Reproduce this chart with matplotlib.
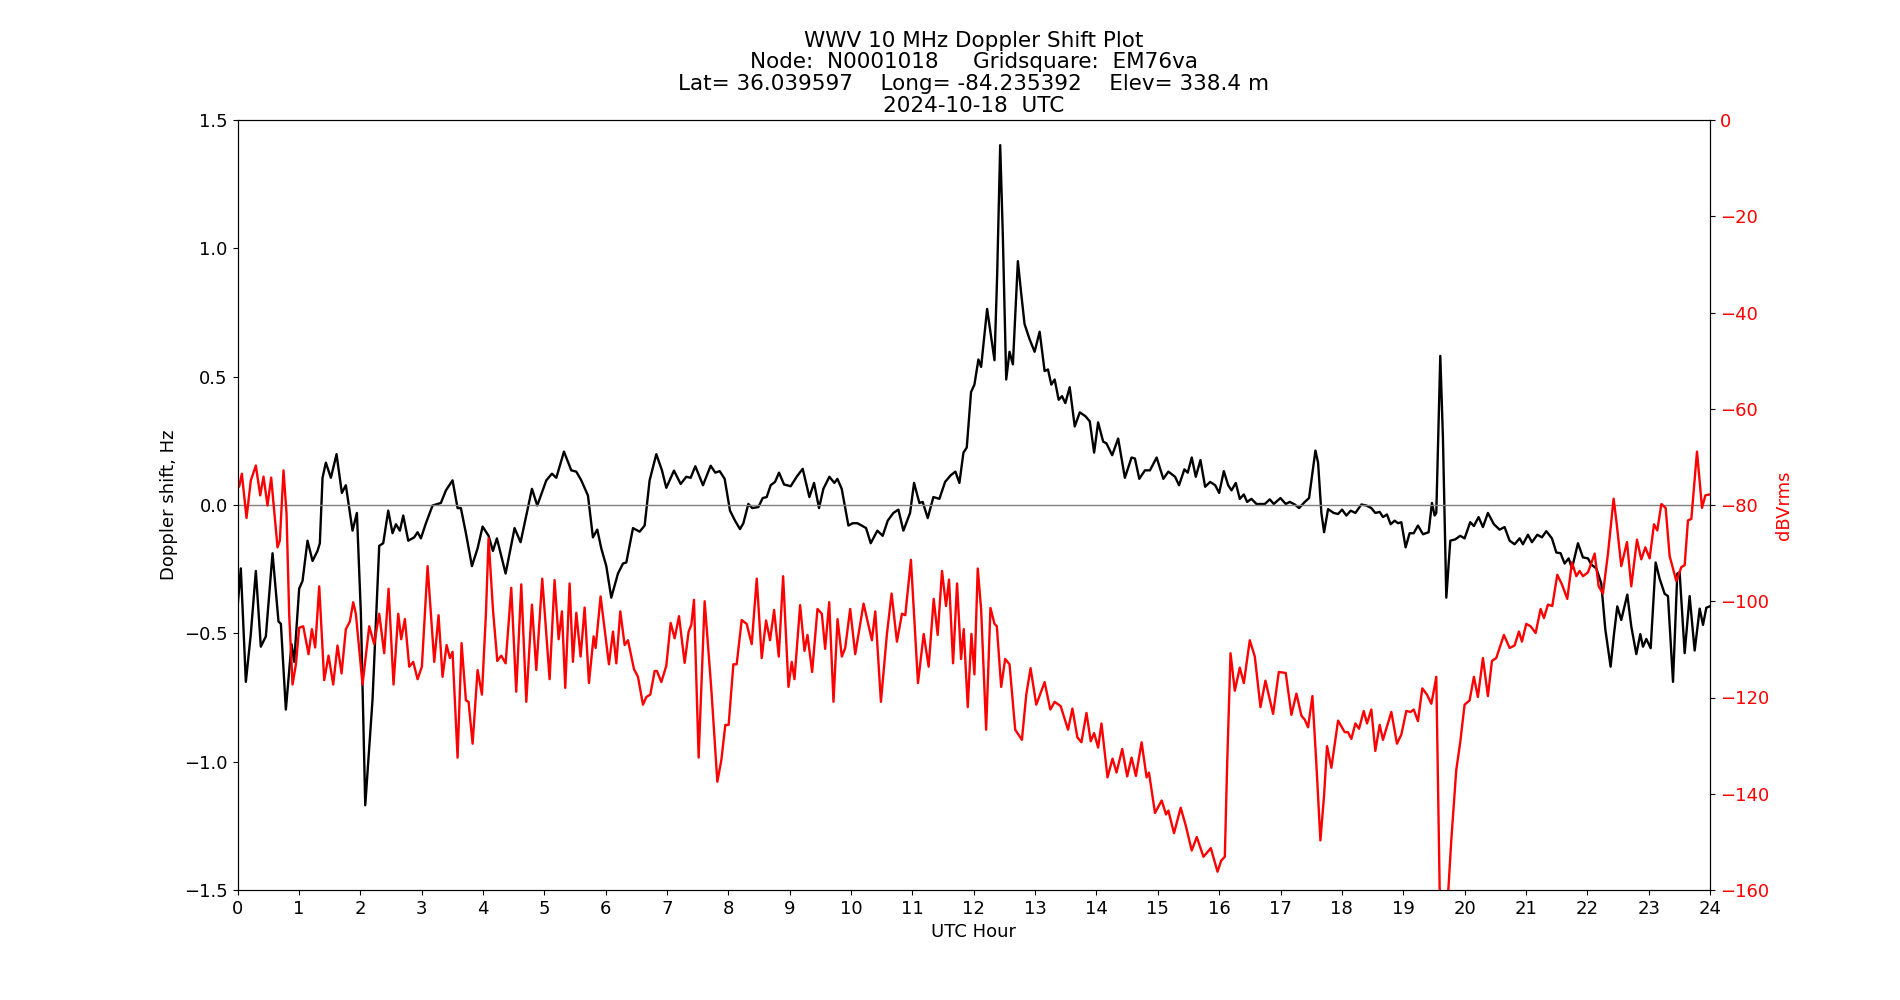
import matplotlib
matplotlib.use("Agg")
import matplotlib.pyplot as plt

# ---- Doppler shift (Hz) vs UTC hour ----
dop_hours = [
    0.000, 0.054, 0.136, 0.217, 0.299, 0.380, 0.462, 0.571, 0.668, 0.707, 0.788, 0.880, 0.924,
    1.005, 1.060, 1.141, 1.223, 1.304, 1.342, 1.386, 1.440, 1.522, 1.614, 1.701, 1.766, 1.875,
    1.946, 2.011, 2.082, 2.201, 2.310, 2.375, 2.457, 2.527, 2.582, 2.647, 2.701, 2.783, 2.880,
    2.935, 2.989, 3.071, 3.179, 3.315, 3.397, 3.505, 3.587, 3.641, 3.723, 3.821, 3.913, 3.995,
    4.092, 4.163, 4.228, 4.370, 4.516, 4.614, 4.799, 4.886, 5.033, 5.125, 5.196, 5.321, 5.440,
    5.522, 5.603, 5.712, 5.793, 5.864, 5.929, 6.011, 6.092, 6.201, 6.283, 6.337, 6.446, 6.554,
    6.636, 6.717, 6.826, 6.918, 6.989, 7.114, 7.223, 7.315, 7.386, 7.462, 7.587, 7.712, 7.788,
    7.859, 7.940, 8.027, 8.109, 8.190, 8.245, 8.326, 8.391, 8.489, 8.560, 8.625, 8.690, 8.761,
    8.826, 8.908, 9.016, 9.114, 9.212, 9.321, 9.397, 9.478, 9.549, 9.647, 9.728, 9.777, 9.848,
    9.957, 10.027, 10.103, 10.174, 10.245, 10.321, 10.429, 10.516, 10.598, 10.690, 10.772,
    10.853, 10.962, 11.027, 11.114, 11.168, 11.250, 11.342, 11.440, 11.533, 11.625, 11.701,
    11.766, 11.832, 11.886, 11.956, 12.011, 12.076, 12.120, 12.218, 12.283, 12.338, 12.381,
    12.431, 12.474, 12.529, 12.583, 12.638, 12.719, 12.774, 12.828, 12.910, 12.992, 13.074,
    13.155, 13.210, 13.264, 13.319, 13.384, 13.439, 13.493, 13.564, 13.646, 13.728, 13.820,
    13.891, 13.962, 14.027, 14.109, 14.163, 14.256, 14.354, 14.463, 14.572, 14.627, 14.698,
    14.790, 14.872, 14.981, 15.090, 15.172, 15.281, 15.346, 15.433, 15.488, 15.553, 15.619,
    15.695, 15.771, 15.853, 15.935, 16.000, 16.076, 16.147, 16.201, 16.271, 16.336, 16.402,
    16.456, 16.526, 16.608, 16.744, 16.825, 16.890, 16.999, 17.085, 17.151, 17.232, 17.303,
    17.395, 17.465, 17.520, 17.569, 17.612, 17.666, 17.710, 17.775, 17.867, 17.938, 18.003,
    18.073, 18.144, 18.220, 18.318, 18.399, 18.480, 18.545, 18.616, 18.670, 18.735, 18.795,
    18.860, 18.915, 18.969, 19.039, 19.104, 19.170, 19.240, 19.322, 19.414, 19.468, 19.512,
    19.539, 19.604, 19.647, 19.702, 19.767, 19.848, 19.929, 20.000, 20.092, 20.152, 20.228,
    20.299, 20.380, 20.478, 20.571, 20.652, 20.734, 20.815, 20.897, 20.951, 21.033, 21.098,
    21.185, 21.261, 21.332, 21.424, 21.495, 21.565, 21.630, 21.696, 21.750, 21.848, 21.929,
    22.011, 22.065, 22.147, 22.228, 22.293, 22.380, 22.435, 22.489, 22.554, 22.652, 22.717,
    22.799, 22.864, 22.908, 22.962, 23.033, 23.114, 23.179, 23.261, 23.315, 23.397, 23.467,
    23.505, 23.587, 23.668, 23.750, 23.832, 23.886, 23.940, 23.995,
]
dop_shift = [
    -0.400, -0.247, -0.689, -0.503, -0.257, -0.552, -0.512, -0.188, -0.454, -0.463, -0.797, -0.542, -0.611,
    -0.326, -0.296, -0.139, -0.218, -0.179, -0.149, 0.106, 0.165, 0.106, 0.198, 0.047, 0.077, -0.100,
    -0.031, -0.424, -1.170, -0.758, -0.159, -0.149, -0.022, -0.110, -0.075, -0.100, -0.041, -0.139, -0.126,
    -0.106, -0.130, -0.071, -0.002, 0.008, 0.057, 0.096, -0.012, -0.012, -0.110, -0.238, -0.169, -0.084,
    -0.120, -0.179, -0.130, -0.267, -0.090, -0.145, 0.063, -0.002, 0.096, 0.122, 0.106, 0.208, 0.135,
    0.130, 0.096, 0.037, -0.126, -0.096, -0.169, -0.238, -0.361, -0.267, -0.228, -0.224, -0.090, -0.104,
    -0.080, 0.096, 0.198, 0.135, 0.067, 0.134, 0.082, 0.110, 0.106, 0.151, 0.077, 0.153, 0.126,
    0.132, 0.102, -0.022, -0.061, -0.094, -0.071, 0.004, -0.012, -0.008, 0.027, 0.031, 0.077, 0.090,
    0.126, 0.080, 0.073, 0.110, 0.141, 0.031, 0.086, -0.012, 0.063, 0.110, 0.086, 0.102, 0.063,
    -0.080, -0.071, -0.071, -0.080, -0.090, -0.149, -0.100, -0.120, -0.061, -0.031, -0.018,
    -0.100, -0.031, 0.086, 0.008, 0.012, -0.051, 0.031, 0.024, 0.090, 0.116, 0.130,
    0.086, 0.204, 0.224, 0.440, 0.469, 0.567, 0.538, 0.764, 0.656, 0.564, 0.891,
    1.402, 1.049, 0.489, 0.597, 0.548, 0.950, 0.823, 0.705, 0.646, 0.597, 0.675,
    0.522, 0.528, 0.469, 0.489, 0.410, 0.424, 0.397, 0.459, 0.306, 0.361, 0.346,
    0.326, 0.204, 0.322, 0.247, 0.240, 0.194, 0.259, 0.106, 0.185, 0.181, 0.102,
    0.135, 0.135, 0.185, 0.102, 0.130, 0.110, 0.077, 0.139, 0.126, 0.185, 0.110,
    0.175, 0.071, 0.090, 0.077, 0.047, 0.132, 0.077, 0.057, 0.086, 0.024, 0.041,
    0.012, 0.024, 0.004, 0.004, 0.022, 0.004, 0.027, 0.004, 0.012, 0.002, -0.012,
    0.012, 0.027, 0.126, 0.212, 0.165, -0.031, -0.106, -0.016, -0.031, -0.035, -0.018,
    -0.041, -0.022, -0.031, 0.002, -0.002, -0.012, -0.031, -0.027, -0.047, -0.037, -0.075,
    -0.061, -0.071, -0.067, -0.165, -0.110, -0.110, -0.080, -0.114, -0.106, 0.008, -0.041,
    -0.031, 0.581, 0.263, -0.361, -0.139, -0.134, -0.120, -0.130, -0.067, -0.082, -0.047,
    -0.086, -0.031, -0.075, -0.096, -0.086, -0.139, -0.153, -0.130, -0.153, -0.116, -0.145,
    -0.116, -0.126, -0.102, -0.130, -0.185, -0.188, -0.228, -0.208, -0.247, -0.149, -0.204,
    -0.208, -0.232, -0.247, -0.306, -0.483, -0.630, -0.503, -0.395, -0.448, -0.349, -0.473,
    -0.581, -0.503, -0.552, -0.522, -0.558, -0.224, -0.287, -0.346, -0.355, -0.689, -0.267,
    -0.263, -0.577, -0.355, -0.567, -0.404, -0.467, -0.400, -0.395,
]

# ---- Signal level (dBVrms) vs UTC hour ----
amp_hours = [
    0.000, 0.027, 0.071, 0.147, 0.217, 0.299, 0.370, 0.424, 0.489, 0.549, 0.652, 0.690, 0.750,
    0.799, 0.842, 0.897, 0.951, 1.005, 1.071, 1.158, 1.212, 1.266, 1.332, 1.413, 1.484, 1.560,
    1.630, 1.696, 1.766, 1.832, 1.886, 1.929, 2.038, 2.147, 2.228, 2.310, 2.391, 2.462, 2.543,
    2.620, 2.668, 2.728, 2.799, 2.864, 2.935, 3.005, 3.098, 3.207, 3.277, 3.342, 3.408, 3.462,
    3.505, 3.587, 3.652, 3.723, 3.766, 3.832, 3.913, 3.984, 4.049, 4.092, 4.163, 4.234, 4.299,
    4.370, 4.462, 4.543, 4.625, 4.707, 4.799, 4.870, 4.967, 5.087, 5.168, 5.234, 5.288, 5.342,
    5.413, 5.467, 5.522, 5.592, 5.658, 5.728, 5.804, 5.837, 5.918, 6.054, 6.120, 6.174, 6.239,
    6.310, 6.364, 6.462, 6.527, 6.609, 6.663, 6.728, 6.799, 6.837, 6.908, 6.989, 7.060, 7.125,
    7.196, 7.288, 7.353, 7.397, 7.440, 7.516, 7.614, 7.723, 7.821, 7.886, 7.951, 8.005, 8.082,
    8.136, 8.218, 8.299, 8.381, 8.463, 8.544, 8.615, 8.680, 8.746, 8.822, 8.893, 8.980, 9.034,
    9.078, 9.170, 9.241, 9.290, 9.366, 9.453, 9.524, 9.578, 9.644, 9.714, 9.780, 9.850, 9.905,
    9.986, 10.068, 10.204, 10.340, 10.395, 10.487, 10.585, 10.661, 10.748, 10.830, 10.884,
    10.976, 11.091, 11.184, 11.265, 11.347, 11.412, 11.483, 11.548, 11.597, 11.663, 11.728,
    11.793, 11.837, 11.902, 11.962, 12.011, 12.065, 12.120, 12.202, 12.272, 12.338, 12.376,
    12.447, 12.512, 12.583, 12.676, 12.785, 12.856, 12.926, 13.019, 13.155, 13.248, 13.319,
    13.417, 13.537, 13.608, 13.689, 13.755, 13.837, 13.907, 13.962, 14.027, 14.082, 14.180,
    14.262, 14.327, 14.420, 14.501, 14.572, 14.643, 14.736, 14.817, 14.856, 14.954, 15.063,
    15.134, 15.172, 15.264, 15.373, 15.455, 15.553, 15.635, 15.744, 15.864, 15.973, 16.033,
    16.092, 16.130, 16.185, 16.255, 16.336, 16.402, 16.499, 16.581, 16.673, 16.754, 16.879,
    16.972, 17.085, 17.178, 17.259, 17.341, 17.395, 17.449, 17.520, 17.585, 17.650, 17.710,
    17.758, 17.829, 17.938, 18.046, 18.100, 18.155, 18.220, 18.280, 18.356, 18.410, 18.480,
    18.545, 18.616, 18.670, 18.806, 18.898, 18.969, 19.050, 19.121, 19.170, 19.240, 19.311,
    19.387, 19.458, 19.495, 19.539, 19.593, 19.630, 19.700, 19.729, 19.783, 19.864, 19.929,
    20.000, 20.082, 20.152, 20.217, 20.299, 20.380, 20.446, 20.516, 20.641, 20.734, 20.815,
    20.886, 20.935, 21.005, 21.076, 21.158, 21.239, 21.293, 21.359, 21.429, 21.511, 21.587,
    21.674, 21.750, 21.821, 21.875, 21.929, 22.011, 22.120, 22.185, 22.255, 22.337, 22.429,
    22.473, 22.554, 22.647, 22.717, 22.810, 22.880, 22.946, 23.016, 23.087, 23.141, 23.207,
    23.277, 23.342, 23.451, 23.533, 23.587, 23.641, 23.696, 23.788, 23.870, 23.924, 23.995,
]
amp_db = [
    -75.9, -76.2, -73.5, -82.7, -74.9, -71.8, -78.0, -74.1, -80.1, -74.3, -88.8, -87.4, -72.8,
    -81.7, -102.6, -117.3, -113.2, -105.5, -105.2, -111.0, -105.8, -109.6, -96.9, -116.4, -111.3, -117.3,
    -109.2, -115.0, -105.8, -104.2, -100.2, -102.6, -117.3, -105.2, -108.9, -102.6, -110.8, -97.4, -117.3,
    -102.6, -107.9, -103.7, -113.6, -112.6, -116.2, -113.6, -92.7, -112.6, -102.9, -115.7, -109.1, -111.8,
    -110.5, -132.5, -108.7, -120.6, -120.9, -129.6, -114.3, -119.4, -102.6, -86.9, -101.6, -112.4, -111.3,
    -112.9, -97.2, -118.8, -96.5, -120.9, -100.7, -114.3, -95.3, -116.2, -95.6, -107.9, -102.1, -118.0,
    -96.3, -112.6, -102.4, -111.5, -101.3, -117.0, -107.3, -109.7, -99.0, -113.1, -106.3, -112.9, -102.1,
    -109.1, -108.1, -114.1, -115.7, -121.5, -119.9, -119.4, -114.5, -114.5, -116.8, -113.4, -104.5, -107.7,
    -103.1, -112.8, -106.3, -104.9, -99.7, -132.5, -100.0, -118.3, -137.5, -133.0, -125.7, -125.7, -113.1,
    -113.1, -103.9, -104.7, -108.9, -95.3, -111.8, -104.0, -108.1, -101.8, -111.5, -94.8, -117.8, -112.6,
    -116.2, -100.8, -110.3, -107.0, -114.7, -101.6, -102.6, -109.9, -100.2, -120.9, -103.7, -111.5, -109.7,
    -101.6, -111.0, -100.5, -108.1, -102.1, -120.9, -106.8, -98.4, -108.4, -102.6, -102.9,
    -91.4, -117.0, -106.8, -113.6, -99.5, -107.0, -93.7, -101.0, -95.5, -112.9, -96.3,
    -112.0, -105.8, -122.0, -106.8, -115.2, -93.2, -101.6, -126.7, -101.4, -104.7, -105.2,
    -117.8, -112.0, -113.1, -126.7, -128.8, -119.4, -113.9, -121.5, -116.8, -122.5, -120.9,
    -121.8, -126.7, -122.3, -128.3, -129.3, -123.2, -129.1, -127.4, -130.4, -125.4, -136.6,
    -132.7, -135.6, -130.7, -136.4, -132.5, -136.3, -129.3, -136.6, -135.6, -144.0, -141.4,
    -144.3, -143.5, -148.2, -142.9, -146.6, -151.8, -149.0, -153.1, -151.3, -156.2, -153.9,
    -153.1, -134.0, -110.8, -118.6, -113.8, -117.0, -108.1, -111.5, -122.0, -116.5, -123.4,
    -114.7, -114.9, -123.6, -119.2, -123.8, -124.6, -126.2, -119.7, -134.0, -149.7, -140.3,
    -130.1, -134.6, -124.8, -127.2, -127.2, -128.6, -125.4, -126.5, -122.8, -125.4, -122.5,
    -131.1, -125.7, -128.8, -123.0, -129.6, -127.7, -122.8, -123.0, -122.5, -124.9, -118.1,
    -119.4, -121.3, -118.8, -115.7, -159.2, -175.0, -175.0, -161.3, -149.7, -135.1, -129.3,
    -121.5, -120.6, -115.7, -119.9, -111.8, -119.7, -112.4, -111.8, -107.0, -109.7, -109.2,
    -106.3, -108.4, -104.7, -105.2, -106.6, -101.6, -103.5, -100.7, -101.0, -94.5, -96.5,
    -99.5, -91.9, -94.8, -93.7, -94.8, -94.0, -90.1, -96.9, -98.4, -90.1, -78.7,
    -83.2, -92.7, -87.7, -96.9, -87.2, -91.3, -88.8, -91.1, -84.0, -85.3, -79.8,
    -80.6, -90.6, -95.8, -92.9, -92.5, -83.2, -82.9, -68.9, -80.6, -78.0, -77.8,
]

hour_ticks = list(range(0, 25))
title_text = ("WWV 10 MHz Doppler Shift Plot\n"
              "Node:  N0001018     Gridsquare:  EM76va\n"
              "Lat= 36.039597    Long= -84.235392    Elev= 338.4 m\n"
              "2024-10-18  UTC")

plt.rcParams['font.family'] = ['DejaVu Sans']
plt.rcParams['font.size'] = 13

fig, ax1 = plt.subplots(figsize=(19, 10), dpi=100)
ax1.plot(dop_hours, dop_shift, color='black', linewidth=1.7)
ax1.axhline(0, color='gray', linewidth=1.0)
ax1.set_xlim(0, 24)
ax1.set_ylim(-1.5, 1.5)
ax1.set_xticks(hour_ticks)
ax1.set_xlabel('UTC Hour', fontsize=13)
ax1.set_ylabel('Doppler shift, Hz', fontsize=13)
ax1.tick_params(labelsize=13)
ax1.set_title(title_text, fontsize=15.5, linespacing=1.1)

ax2 = ax1.twinx()
ax2.plot(amp_hours, amp_db, color='red', linewidth=1.7)
ax2.set_ylim(-160, 0)
ax2.set_ylabel('dBVrms', color='red', fontsize=13)
ax2.tick_params(axis='y', labelcolor='red', labelsize=13)

fig.savefig('out.png', dpi=100)
